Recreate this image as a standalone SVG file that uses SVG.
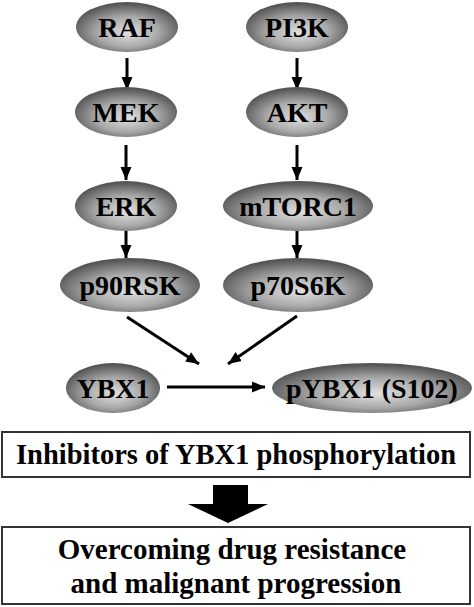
<svg xmlns="http://www.w3.org/2000/svg" width="474" height="607" viewBox="0 0 474 607">
<defs>
<radialGradient id="g" cx="50%" cy="58%" r="55%" fx="52%" fy="62%">
<stop offset="0" stop-color="#e0e0e0"/>
<stop offset="0.55" stop-color="#a8a8a8"/>
<stop offset="1" stop-color="#555"/>
</radialGradient>
<marker id="ah" markerUnits="userSpaceOnUse" markerWidth="14" markerHeight="14" viewBox="0 0 14 14" refX="13" refY="7" orient="auto">
<path d="M0,1.5 L13,7 L0,12.5 Z" fill="#000"/>
</marker>
<style>
.n{fill:url(#g);}
.t{font-family:"Liberation Serif","Times New Roman",serif;font-weight:bold;font-size:28px;text-anchor:middle;fill:#000;}
.bt{font-size:29px;}
.b{fill:#fff;stroke:#333;stroke-width:2;}
.c{stroke:#000;stroke-width:3;fill:none;marker-end:url(#ah);}
</style>
</defs>
<rect width="474" height="607" fill="#fff"/>
<g id="connectors">
<line class="c" x1="127" y1="58" x2="127" y2="90"/>
<line class="c" x1="297" y1="58" x2="297" y2="90"/>
<line class="c" x1="126" y1="145" x2="126" y2="180"/>
<line class="c" x1="297" y1="145" x2="297" y2="180"/>
<line class="c" x1="126" y1="228" x2="126" y2="258"/>
<line class="c" x1="297" y1="228" x2="297" y2="258"/>
<line class="c" x1="127" y1="317" x2="199" y2="364"/>
<line class="c" x1="297" y1="316" x2="228" y2="364"/>
<line class="c" x1="167" y1="387" x2="265" y2="387"/>
<path id="bigarrow" d="M213,485 L248,485 L248,504 L268,504 L228,523 L188,504 L213,504 Z" fill="#000"/>
</g>
<g id="RAF"><ellipse class="n" cx="127" cy="27" rx="51" ry="25"/><text class="t" x="127" y="37">RAF</text></g>
<g id="PI3K"><ellipse class="n" cx="297" cy="27" rx="51" ry="25"/><text class="t" x="297" y="37">PI3K</text></g>
<g id="MEK"><ellipse class="n" cx="126" cy="112" rx="51" ry="25"/><text class="t" x="126" y="122">MEK</text></g>
<g id="AKT"><ellipse class="n" cx="297" cy="112" rx="51" ry="25"/><text class="t" x="297" y="122">AKT</text></g>
<g id="ERK"><ellipse class="n" cx="126" cy="206" rx="51" ry="25"/><text class="t" x="126" y="216">ERK</text></g>
<g id="mTORC1"><ellipse class="n" cx="298" cy="206" rx="75" ry="25"/><text class="t" x="298" y="216">mTORC1</text></g>
<g id="p90RSK"><ellipse class="n" cx="130" cy="285" rx="70" ry="27"/><text class="t" x="130" y="295">p90RSK</text></g>
<g id="p70S6K"><ellipse class="n" cx="298" cy="285" rx="75" ry="27"/><text class="t" x="298" y="295">p70S6K</text></g>
<g id="YBX1"><ellipse class="n" cx="113" cy="388" rx="47" ry="25"/><text class="t" x="113" y="398">YBX1</text></g>
<g id="pYBX1"><ellipse class="n" cx="372" cy="388" rx="100" ry="25"/><text class="t" x="372" y="398">pYBX1 (S102)</text></g>
<g id="inhibitors"><rect class="b" x="2" y="432" width="468" height="45"/><text class="t bt" x="236" y="464" textLength="440" lengthAdjust="spacingAndGlyphs">Inhibitors of YBX1 phosphorylation</text></g>
<g id="outcome"><rect class="b" x="2" y="527" width="468" height="77"/><text class="t bt" x="232" y="559">Overcoming drug resistance</text><text class="t bt" x="236" y="593">and malignant progression</text></g>
</svg>
